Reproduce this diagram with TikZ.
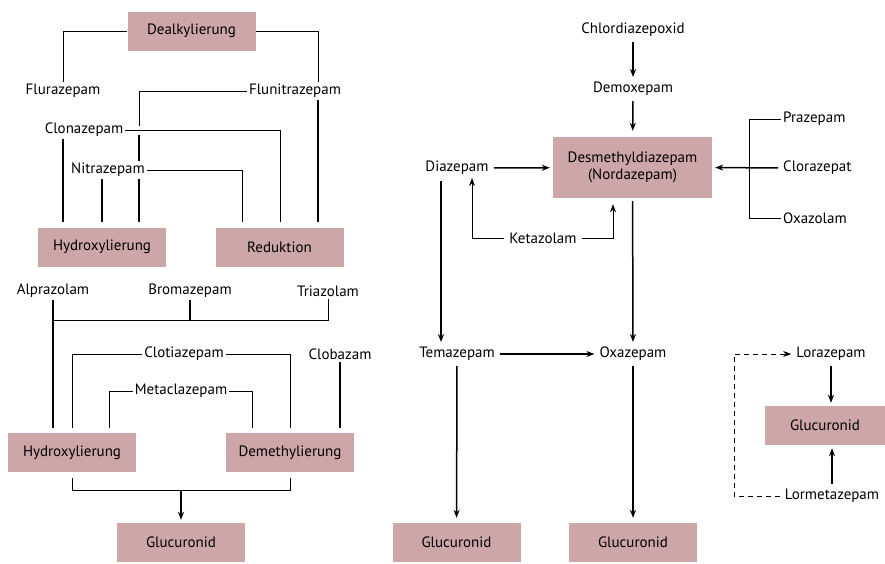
\documentclass[tikz,border=0pt]{standalone}
\usepackage{fontspec}
\setmainfont{PT Sans}
\usepackage{tikz}
\usetikzlibrary{arrows.meta,positioning,backgrounds}

\definecolor{boxpink}{HTML}{CDA6A7}

\begin{document}
\begin{tikzpicture}[
  x=1pt, y=-1pt,
  every node/.style={font=\fontsize{15}{17}\selectfont, inner sep=2pt},
  drug/.style={fill=white},
  stage/.style={fill=boxpink, minimum width=128pt, minimum height=39pt, inner sep=0pt},
  link/.style={draw, line width=0.9pt},
  feed/.style={draw, line width=1.5pt, shorten >=5pt},
  flow/.style={draw, line width=1.5pt, -{Stealth[length=8pt,width=6pt]}, shorten <=3pt, shorten >=3pt}
]
\useasboundingbox (0,0) rectangle (885,563);

% left: upper group
\node[stage] (dealk) at (191.5,31) {Dealkylierung};
\node[drug] (flur) at (63,91) {Flurazepam};
\node[drug] (flunit) at (295,91) {Flunitrazepam};
\node[drug] (clon) at (84,130) {Clonazepam};
\node[drug] (nitra) at (108,170) {Nitrazepam};
\node[stage] (hydA) at (102,247) {Hydroxylierung};
\node[stage] (redu) at (279.5,247) {Reduktion};

\coordinate (colA) at (63,0);
\coordinate (colB) at (139,0);
\coordinate (colC) at (242,0);
\coordinate (colD) at (280,0);
\coordinate (colE) at (318,0);

% left: lower group
\node[drug] (alpra) at (53,291) {Alprazolam};
\node[drug] (broma) at (190,291) {Bromazepam};
\node[drug] (tria) at (328,291) {Triazolam};
\node[drug] (clotia) at (184,354) {Clotiazepam};
\node[drug] (metac) at (181,391) {Metaclazepam};
\node[drug] (clob) at (340,354) {Clobazam};
\node[stage] (hydB) at (72,452.5) {Hydroxylierung};
\node[stage] (demeth) at (290,452.5) {Demethylierung};
\node[stage] (glucA) at (181,542.5) {Glucuronid};

\coordinate (topbar) at (0,320);
\coordinate (lowbar) at (0,490);
\coordinate (colF) at (109,0);
\coordinate (colG) at (252,0);

% right: nordazepam chain
\node[drug] (chlor) at (633,30) {Chlordiazepoxid};
\node[drug] (demox) at (633,89) {Demoxepam};
\node[stage, minimum width=159pt, minimum height=61pt, align=center] (desm) at (632.5,167.5) {Desmethyldiazepam\\(Nordazepam)};
\node[drug] (diaz) at (457,168) {Diazepam};
\node[drug, anchor=west] (praz) at (781,119) {Prazepam};
\node[drug, anchor=west] (clorz) at (781,168) {Clorazepat};
\node[drug, anchor=west] (oxaz) at (781,218) {Oxazolam};
\node[drug] (ketaz) at (543,238) {Ketazolam};
\node[drug] (tema) at (457,354) {Temazepam};
\node[drug] (oxa) at (633,354) {Oxazepam};
\node[stage] (glucB) at (456.5,542.5) {Glucuronid};
\node[stage] (glucC) at (633,542.5) {Glucuronid};
\node[drug] (lora) at (831,354) {Lorazepam};
\node[stage, minimum width=120pt] (glucD) at (825,425.5) {Glucuronid};
\node[drug] (lormet) at (832,496) {Lormetazepam};

\coordinate (brk) at (749,0);
\coordinate (ketL) at (472,0);
\coordinate (ketR) at (613,0);
\coordinate (diazL) at (441,0);
\coordinate (dsh) at (734,0);

\begin{scope}[on background layer]
% upper group
\draw[link] (flur.north) |- (dealk.west);
\draw[link] (dealk.east) -| (flunit.north -| colE);
\draw[feed] (flunit.south -| colE) -- (redu.north -| colE);
\draw[link] (flunit.west) -| (clon.east -| colB);
\draw[feed] (clon.east -| colB) -- (hydA.north -| colB);
\draw[link, shorten >=5pt, preaction={draw=white, line width=9pt, shorten >=5pt}] (clon.east) -| (redu.north -| colD);
\draw[feed] (clon.south -| colA) -- (hydA.north -| colA);
\draw[link, shorten >=5pt] (nitra.east) -| (redu.north -| colC);
\draw[feed] (nitra.south -| hydA.north) -- (hydA.north);

% lower group
\draw[link] (alpra |- topbar) -| (tria.south);
\draw[feed, shorten >=0pt] (broma.south) -- (broma |- topbar);
\draw[feed] (alpra.south) -- (hydB.north -| alpra.south);
\draw[link, shorten >=5pt] (clotia.west) -| (hydB.north);
\draw[link, shorten >=5pt] (clotia.east) -| (demeth.north);
\draw[link, shorten >=5pt] (metac.west) -| (hydB.north -| colF);
\draw[link, shorten >=5pt] (metac.east) -| (demeth.north -| colG);
\draw[feed] (clob.south) -- (demeth.north -| clob.south);
\draw[link, shorten <=6pt, shorten >=6pt] (hydB.south) -- (hydB.south |- lowbar) -| (demeth.south);
\draw[flow, shorten <=0pt] (glucA.north |- lowbar) -- (glucA.north);

% right part
\draw[flow] (chlor) -- (demox);
\draw[flow, shorten >=6pt] (demox) -- (desm);
\draw[flow] (diaz) -- (desm);
\draw[link] (praz.west) -| (oxaz.west -| brk) -- (oxaz.west);
\draw[flow] (clorz.west) -- (desm.east);
\draw[flow, line width=0.9pt, shorten >=1pt] (ketaz.west) -| (diaz.south -| ketL);
\draw[flow, line width=0.9pt, shorten >=6pt] (ketaz.east) -| (desm.south -| ketR);
\draw[flow, shorten <=4pt] (diaz.south -| diazL) -- (tema.north -| diazL);
\draw[flow] (desm) -- (oxa);
\draw[flow] (tema) -- (oxa);
\draw[flow, shorten >=5pt] (tema) -- (glucB);
\draw[flow, shorten >=5pt] (oxa) -- (glucC);
\draw[flow] (lora.south) -- (glucD.north -| lora.south);
\draw[flow] (lormet.north) -- (glucD.south -| lormet.north);
\draw[flow, line width=0.9pt, dash pattern=on 5pt off 4pt] (lormet.west) -| (lora.west -| dsh) -- (lora.west);
\end{scope}

\end{tikzpicture}
\end{document}
